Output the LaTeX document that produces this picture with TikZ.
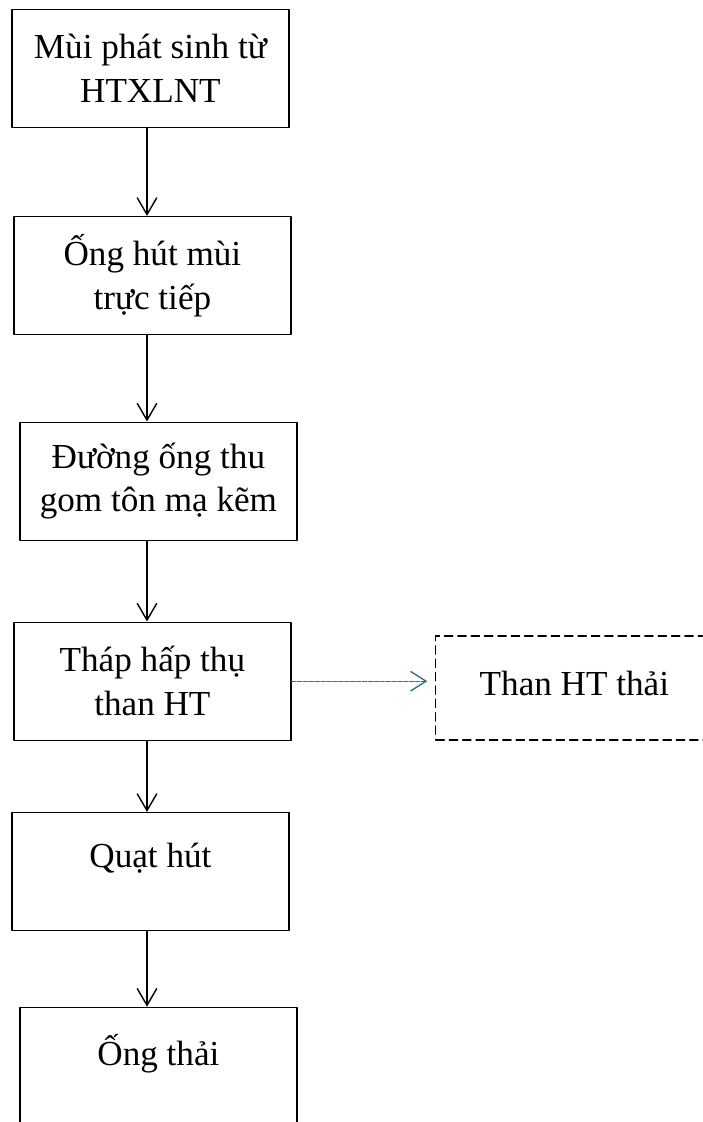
\documentclass[tikz,border=0pt]{standalone}
\usepackage{fontspec}
\setmainfont{Liberation Serif}
\usetikzlibrary{arrows.meta}
\definecolor{wastelink}{RGB}{52,115,140}
\newcommand\lowpad[1][23pt]{\rule[-#1]{0pt}{0pt}}
\tikzset{
  stage/.style={draw, line width=1pt, minimum width=6.925cm, minimum height=2.95cm,
    inner sep=0pt, align=center, font=\fontsize{25}{31}\selectfont},
  wastebox/.style={stage, line width=0.8pt, minimum height=2.6cm,
    dash pattern=on 6pt off 3.5pt},
  flow/.style={line width=1pt, -{Straight Barb[length=12pt,width=14pt]}},
  sideflow/.style={line width=1pt, wastelink, dash pattern=on 3pt off 1.2pt,
    -{Straight Barb[length=11pt,width=14pt]}, shorten >=5.7pt},
}
\begin{document}
\begin{tikzpicture}[line cap=round,line join=round]
  \useasboundingbox (0,0) rectangle (17.575,-28.05);
  \coordinate (spine) at (3.675,0);
  \node[stage] (m1) at (3.76,-1.71) {Mùi phát sinh từ\\HTXLNT};
  \node[stage] (m2) at (3.81,-6.89) {Ống hút mùi\\trực tiếp};
  \node[stage] (m3) at (3.96,-12.03) {Đường ống thu\\gom tôn mạ kẽm};
  \node[stage] (m4) at (3.81,-17.03) {Tháp hấp thụ\\than HT};
  \node[stage] (m5) at (3.76,-21.79) {Quạt hút\lowpad};
  \node[stage] (m6) at (3.96,-26.66) {Ống thải\lowpad};
  \node[wastebox] (waste) at (14.36,-17.2) {Than HT thải\lowpad[7pt]};
  \foreach \a/\b in {m1/m2,m2/m3,m3/m4,m4/m5,m5/m6}
    \draw[flow] (\a.south -| spine) -- (\b.north -| spine);
  \draw[sideflow] (m4.east) -- (m4.east -| waste.west);
\end{tikzpicture}
\end{document}
